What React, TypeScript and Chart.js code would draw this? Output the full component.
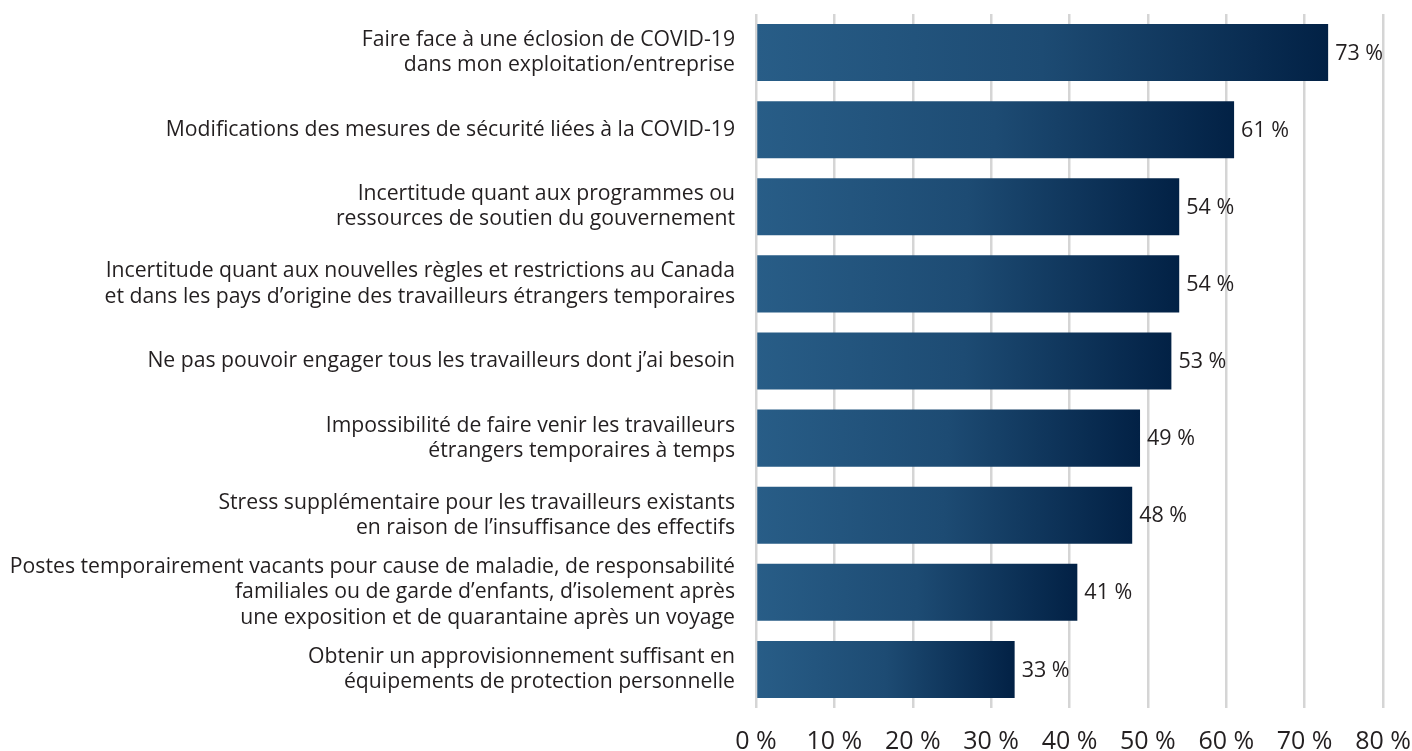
import React, { useEffect, useRef } from "react";
import { Chart, registerables } from "chart.js";

Chart.register(...registerables);

const categories: (string | string[])[] = [
  ["Faire face à une éclosion de COVID-19", "dans mon exploitation/entreprise"],
  "Modifications des mesures de sécurité liées à la COVID-19",
  ["Incertitude quant aux programmes ou", "ressources de soutien du gouvernement"],
  [
    "Incertitude quant aux nouvelles règles et restrictions au Canada",
    "et dans les pays d’origine des travailleurs étrangers temporaires",
  ],
  "Ne pas pouvoir engager tous les travailleurs dont j’ai besoin",
  ["Impossibilité de faire venir les travailleurs", "étrangers temporaires à temps"],
  ["Stress supplémentaire pour les travailleurs existants", "en raison de l’insuffisance des effectifs"],
  [
    "Postes temporairement vacants pour cause de maladie, de responsabilité",
    "familiales ou de garde d’enfants, d’isolement après",
    "une exposition et de quarantaine après un voyage",
  ],
  ["Obtenir un approvisionnement suffisant en", "équipements de protection personnelle"],
];

const values: number[] = [73, 61, 54, 54, 53, 49, 48, 41, 33];

const xTicks: number[] = [0, 10, 20, 30, 40, 50, 60, 70, 80];

const FONT = "'Open Sans', 'DejaVu Sans', sans-serif";
const TEXT = "#231f20";

const valueLabels = {
  id: "valueLabels",
  afterDatasetsDraw(chart: any) {
    const ctx = chart.ctx;
    const meta = chart.getDatasetMeta(0);
    ctx.save();
    ctx.font = `21.5px ${FONT}`;
    ctx.fillStyle = TEXT;
    ctx.textAlign = "left";
    ctx.textBaseline = "middle";
    meta.data.forEach((bar: any, i: number) => {
      ctx.fillText(`${values[i]} %`, bar.x + 7, bar.y + 1);
    });
    ctx.restore();
  },
};

export default function App() {
  const ref = useRef<HTMLCanvasElement | null>(null);

  useEffect(() => {
    if (!ref.current) return;
    const chart = new Chart(ref.current, {
      type: "bar",
      data: {
        labels: categories as any,
        datasets: [
          {
            data: values,
            backgroundColor: (c: any) => {
              const ch = c.chart;
              const area = ch.chartArea;
              if (!area || c.dataIndex === undefined) return "#1c4a72";
              const xs = ch.scales.x;
              const x0 = xs.getPixelForValue(0);
              const x1 = xs.getPixelForValue(values[c.dataIndex]);
              const g = ch.ctx.createLinearGradient(x0, 0, x1, 0);
              g.addColorStop(0, "#285d87");
              g.addColorStop(0.5, "#1d4b73");
              g.addColorStop(1, "#022145");
              return g;
            },
            borderWidth: 0,
            barPercentage: 0.74,
            categoryPercentage: 1,
          },
        ],
      },
      options: {
        indexAxis: "y",
        animation: false,
        responsive: true,
        maintainAspectRatio: false,
        layout: { padding: { top: 14, right: 29, left: 0, bottom: 0 } },
        plugins: {
          legend: { display: false },
          tooltip: { enabled: false },
        },
        scales: {
          x: {
            type: "linear",
            min: 0,
            max: 80,
            afterBuildTicks: (s: any) => {
              s.ticks = xTicks.map((v) => ({ value: v }));
            },
            afterFit: (s: any) => {
              s.height = 43;
              s.paddingLeft = 0;
              s.paddingRight = 0;
            },
            grid: { color: "#d5d5d5", lineWidth: 2.5, drawTicks: false },
            border: { display: false },
            ticks: {
              padding: 19,
              color: TEXT,
              font: { family: FONT, size: 25 },
              callback: (v: any) => `${v} %`,
              maxRotation: 0,
            },
          },
          y: {
            type: "category",
            afterFit: (s: any) => {
              s.width = 756;
              s.paddingTop = 0;
              s.paddingBottom = 0;
            },
            grid: { display: false, drawTicks: false },
            border: { display: false },
            ticks: {
              autoSkip: false,
              padding: 21,
              color: TEXT,
              font: { family: FONT, size: 21.2, lineHeight: 1.19 },
            },
          },
        },
      },
      plugins: [valueLabels],
    });
    return () => chart.destroy();
  }, []);

  return (
    <div style={{ position: "fixed", left: 0, top: 0, width: 1412, height: 751, background: "#fff" }}>
      <canvas ref={ref} />
    </div>
  );
}
